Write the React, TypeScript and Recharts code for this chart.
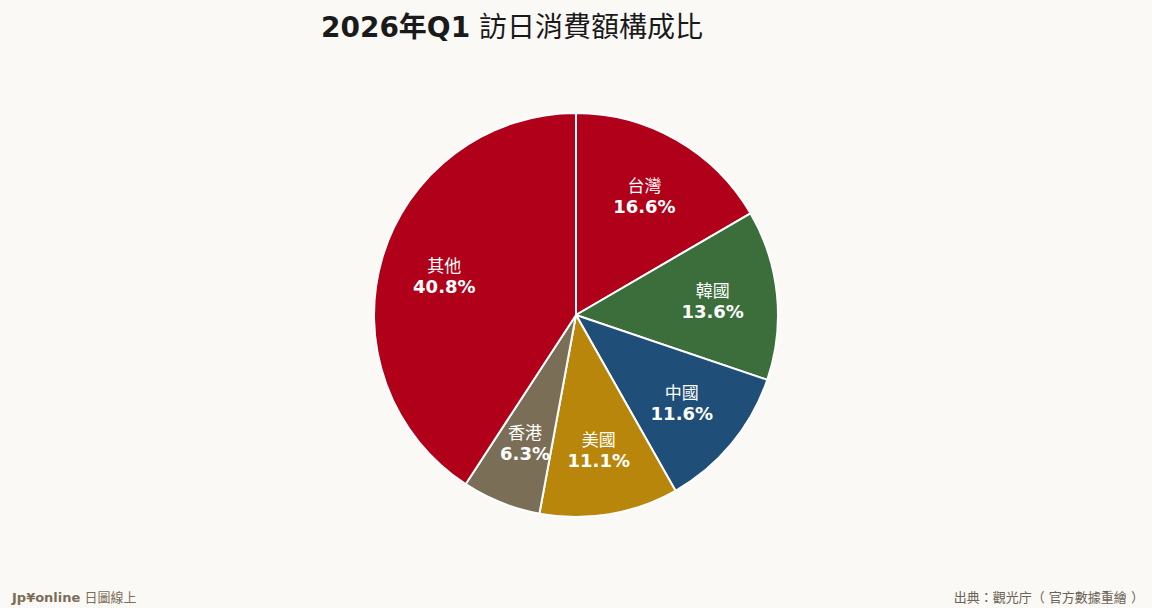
import React from "react"
import { PieChart, Pie, Cell } from "recharts"

// share of visitor spending, 2026 Q1
const regions = ["台灣", "韓國", "中國", "美國", "香港", "其他"]
const shares = [16.6, 13.6, 11.6, 11.1, 6.3, 40.8]
const colors = ["#B0001A", "#3C6E3C", "#1F4E79", "#B8860B", "#7A6E57", "#B0001A"]

const data = regions.map((name, i) => ({ name, value: shares[i] }))

const RADIAN = Math.PI / 180
const FONT = '"DejaVu Sans", "Noto Sans CJK TC", sans-serif'

if (typeof document !== "undefined") document.body.style.margin = "0"

const renderLabel = (props: any) => {
  const { cx, cy, midAngle, outerRadius, name, value } = props
  const r = outerRadius * 0.68
  const x = cx + r * Math.cos(-midAngle * RADIAN)
  const y = cy + r * Math.sin(-midAngle * RADIAN)
  return (
    <g>
      <text x={x} y={y - 4} fill="#ffffff" textAnchor="middle" fontSize={17} fontFamily={FONT}>
        {name}
      </text>
      <text x={x} y={y + 17} fill="#ffffff" textAnchor="middle" fontSize={18} fontWeight="bold" fontFamily={FONT}>
        {value.toFixed(1)}%
      </text>
    </g>
  )
}

export default function App() {
  return (
    <div style={{ position: "relative", width: 1152, height: 608, background: "#FAF9F6", fontFamily: FONT }}>
      <div
        style={{
          position: "absolute",
          top: 10,
          left: 0,
          width: 1024,
          textAlign: "center",
          fontSize: 28,
          color: "#1a1a1a",
          lineHeight: "36px",
        }}
      >
        <span style={{ fontWeight: "bold" }}>2026年Q1</span> 訪日消費額構成比
      </div>
      <PieChart width={1152} height={608} margin={{ top: 0, right: 0, bottom: 0, left: 0 }}>
        <Pie
          data={data}
          dataKey="value"
          nameKey="name"
          cx={576}
          cy={315}
          outerRadius={202}
          startAngle={90}
          endAngle={-270}
          stroke="#ffffff"
          strokeWidth={2}
          labelLine={false}
          label={renderLabel}
          isAnimationActive={false}
        >
          {data.map((entry, index) => (
            <Cell key={`cell-${index}`} fill={colors[index]} />
          ))}
        </Pie>
      </PieChart>
      <div style={{ position: "absolute", left: 12, top: 587, fontSize: 13, color: "#7A6E57" }}>
        <span style={{ fontWeight: "bold" }}>Jp¥online</span> 日圖線上
      </div>
      <div style={{ position: "absolute", right: 8, top: 587, fontSize: 13, color: "#6B6357" }}>
        出典：觀光庁（ 官方數據重繪 ）
      </div>
    </div>
  )
}
